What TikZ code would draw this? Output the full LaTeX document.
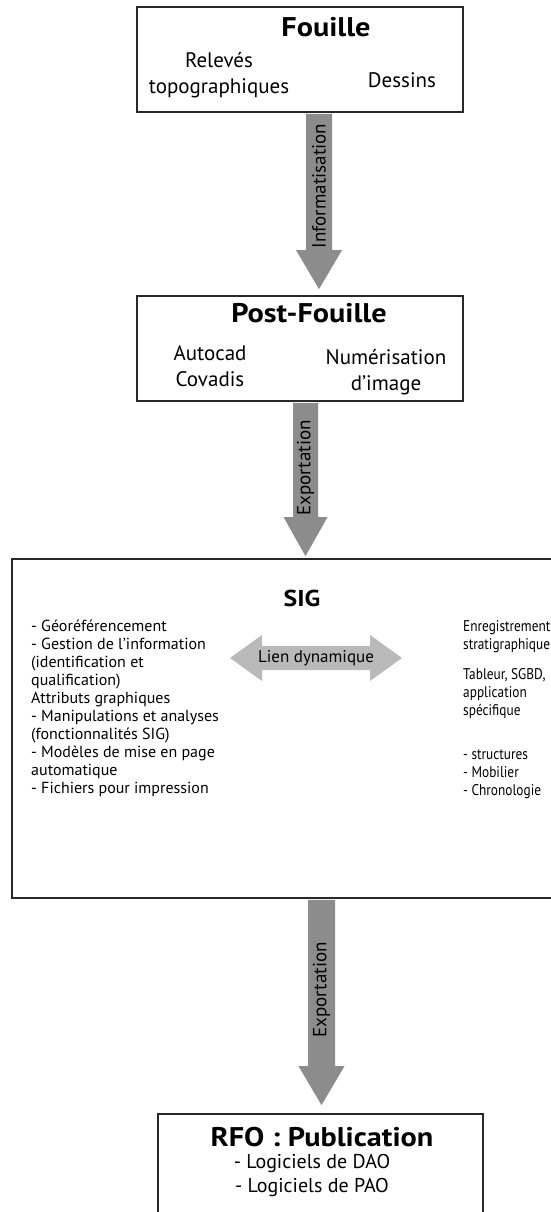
\documentclass[tikz,border=0pt]{standalone}
\usepackage{fontspec}
\setmainfont{PT Sans}
\newfontfamily\titlefont{PT Sans}[FakeStretch=1.12]
\newfontfamily\narrowfont{PT Sans}[FakeStretch=0.86]
\usetikzlibrary{calc}
\definecolor{boxline}{RGB}{40,40,40}
\definecolor{arrowgray}{RGB}{140,140,140}
\definecolor{liengray}{RGB}{185,185,185}
\newcommand\bigdownarrow[5]{%
  \fill[arrowgray] ($(#1)+(-#3,0)$) -- ($(#1)+(#3,0)$) -- ($(#2)+(#3,-#5)$) -- ($(#2)+(#4,-#5)$) -- (#2) -- ($(#2)+(-#4,-#5)$) -- ($(#2)+(-#3,-#5)$) -- cycle;}
\begin{document}
\begin{tikzpicture}[x=1pt,y=-1pt,
  box/.style={draw=boxline, line width=1.8pt, inner sep=0pt},
  title/.style={font=\titlefont\bfseries\fontsize{27}{30}\selectfont, inner sep=0pt},
  body/.style={font=\fontsize{21}{26}\selectfont, align=center, inner sep=0pt},
  sigtext/.style={font=\fontsize{16}{18}\selectfont, align=left, inner sep=0pt, anchor=north west},
  sigright/.style={font=\narrowfont\fontsize{15.5}{18}\selectfont, align=left, inner sep=0pt, anchor=north west},
  arrowlabel/.style={font=\fontsize{19}{22}\selectfont, rotate=90, inner sep=0pt}
]
\useasboundingbox (0,0) rectangle (551,1212);
\fill[white] (0,0) rectangle (551,1212);

% boxes
\node[box, minimum width=326pt, minimum height=105pt] (fouille) at (300,59.5) {};
\node[box, minimum width=326pt, minimum height=105pt] (post) at (300,348.5) {};
\node[box, minimum width=560pt, minimum height=339pt] (sig) at (292,728.5) {};
\node[box, minimum width=325pt, minimum height=120pt] (rfo) at (320.5,1174) {};

% arrows
\path (fouille.south) ++(19,1) coordinate (a1s);
\path (post.north) ++(19,-6) coordinate (a1e);
\bigdownarrow{a1s}{a1e}{13}{23}{39}
\path (post.south) ++(5.5,1) coordinate (a2s);
\path (sig.north) ++(13.5,-2) coordinate (a2e);
\bigdownarrow{a2s}{a2e}{12.5}{22}{39}
\path (sig.south) ++(29.5,1) coordinate (a3s);
\path (rfo.north) ++(1,-8) coordinate (a3e);
\bigdownarrow{a3s}{a3e}{13.5}{23}{39}

\node[arrowlabel] (l1) at (319,186) {Informatisation};
\node[arrowlabel] (l2) at (305.5,468) {Exportation};
\node[arrowlabel] (l3) at (321.5,990) {Exportation};

% Fouille
\node[title] (tf) at (326,27) {Fouille};
\node[body] (tf1) at (219,75) {Relevés\\topographiques};
\node[body] (tf2) at (402,80) {Dessins};

% Post-Fouille
\node[title] (tp) at (309,313) {Post-Fouille};
\node[body] (tp1) at (210,366) {Autocad\\Covadis};
\node[body] (tp2) at (386,372) {Numérisation\\d’image};

% SIG
\node[font=\titlefont\bfseries\fontsize{23}{27}\selectfont, inner sep=0pt] (ts) at (302,598) {SIG};
\node[sigtext] (sl) at (31,620) {- Géoréférencement\\- Gestion de l’information\\(identification et\\qualification)\\Attributs graphiques\\- Manipulations et analyses\\(fonctionnalités SIG)\\- Modèles de mise en page\\automatique\\- Fichiers pour impression};
\node[sigright] (sr1) at (463,620) {Enregistrement\\stratigraphique};
\node[sigright] (sr2) at (463,668) {Tableur, SGBD,\\application\\spécifique};
\node[sigright] (sr3) at (463,750) {- structures\\- Mobilier\\- Chronologie};

% double arrow
\coordinate (dl) at (230,658);
\coordinate (dr) at (402,658);
\fill[liengray] (dl) -- ($(dl)+(32,-23)$) -- ($(dl)+(32,-12)$) -- ($(dr)+(-32,-12)$) -- ($(dr)+(-32,-23)$) -- (dr)
  -- ($(dr)+(-32,23)$) -- ($(dr)+(-32,12)$) -- ($(dl)+(32,12)$) -- ($(dl)+(32,23)$) -- cycle;
\node[font=\fontsize{17}{20}\selectfont, inner sep=0pt] (lien) at ($(dl)!0.5!(dr)$) {Lien dynamique};

% RFO
\node[title] (tr) at (322,1137) {RFO : Publication};
\node[body, font=\fontsize{20}{24}\selectfont] (tr1) at (312,1175) {- Logiciels de DAO\\- Logiciels de PAO};
\end{tikzpicture}
\end{document}
